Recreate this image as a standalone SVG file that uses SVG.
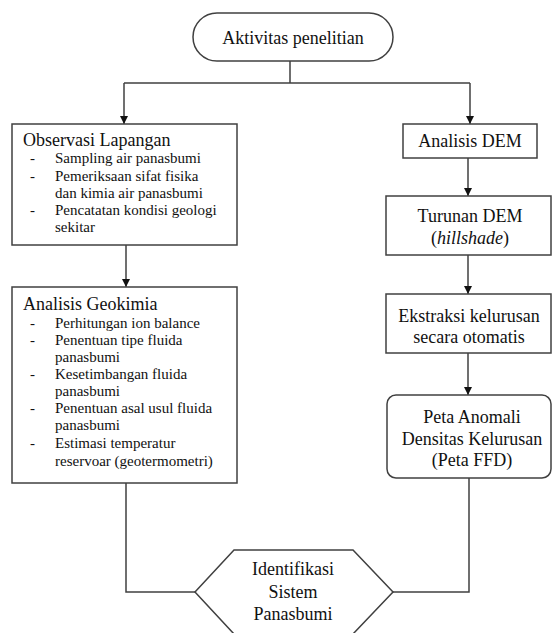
<svg xmlns="http://www.w3.org/2000/svg" width="552" height="633" viewBox="0 0 552 633">
<style>
.box{fill:#fff;stroke:#404040;stroke-width:1.5}
.ln{fill:none;stroke:#404040;stroke-width:1.5}
text{font-family:'Liberation Serif','Times New Roman',serif;fill:#111}
.t{font-size:18px}
.b{font-size:15px}
.c{text-anchor:middle}
</style>
<defs>
<marker id="ah" viewBox="0 0 10 10" refX="10" refY="5" markerWidth="9" markerHeight="8" markerUnits="userSpaceOnUse" orient="auto">
<path d="M0,0 L10,5 L0,10 z" fill="#111"/>
</marker>
</defs>
<g id="connectors">
<path class="ln" d="M290,61 V83 M124,83 H470"/>
<path class="ln" d="M124,83 V124" marker-end="url(#ah)"/>
<path class="ln" d="M470,83 V124" marker-end="url(#ah)"/>
<path class="ln" d="M126,245 V287" marker-end="url(#ah)"/>
<path class="ln" d="M468,158 V196" marker-end="url(#ah)"/>
<path class="ln" d="M468,255 V294" marker-end="url(#ah)"/>
<path class="ln" d="M468,353 V395" marker-end="url(#ah)"/>
<path class="ln" d="M126,483 V592 H195"/>
<path class="ln" d="M469,478 V592 H393"/>
</g>
<g id="start">
<rect class="box" x="193" y="13" width="200" height="48" rx="24" ry="24"/>
<text class="t c" x="293" y="44">Aktivitas penelitian</text>
</g>
<g id="observasi">
<rect class="box" x="12" y="124" width="225" height="121"/>
<text class="t" x="23" y="146">Observasi Lapangan</text>
<text class="b" x="30" y="163">-</text><text class="b" x="55" y="163">Sampling air panasbumi</text>
<text class="b" x="30" y="181">-</text><text class="b" x="55" y="181">Pemeriksaan sifat fisika</text>
<text class="b" x="55" y="198">dan kimia air panasbumi</text>
<text class="b" x="30" y="215">-</text><text class="b" x="55" y="215">Pencatatan kondisi geologi</text>
<text class="b" x="55" y="232">sekitar</text>
</g>
<g id="geokimia">
<rect class="box" x="12" y="287" width="225" height="196"/>
<text class="t" x="23" y="310">Analisis Geokimia</text>
<text class="b" x="30" y="328">-</text><text class="b" x="55" y="328">Perhitungan ion balance</text>
<text class="b" x="30" y="345">-</text><text class="b" x="55" y="345">Penentuan tipe  fluida</text>
<text class="b" x="55" y="362">panasbumi</text>
<text class="b" x="30" y="379">-</text><text class="b" x="55" y="379">Kesetimbangan fluida</text>
<text class="b" x="55" y="396">panasbumi</text>
<text class="b" x="30" y="413">-</text><text class="b" x="55" y="413">Penentuan asal  usul fluida</text>
<text class="b" x="55" y="430">panasbumi</text>
<text class="b" x="30" y="448">-</text><text class="b" x="55" y="448">Estimasi temperatur</text>
<text class="b" x="55" y="466">reservoar (geotermometri)</text>
</g>
<g id="dem">
<rect class="box" x="403" y="124" width="134" height="34"/>
<text class="t c" x="470" y="147">Analisis DEM</text>
</g>
<g id="turunan">
<rect class="box" x="386" y="196" width="165" height="59"/>
<text class="t c" x="470" y="222">Turunan DEM</text>
<text class="t c" x="470" y="244">(<tspan font-style="italic">hillshade</tspan>)</text>
</g>
<g id="ekstraksi">
<rect class="box" x="386" y="294" width="165" height="59"/>
<text class="t c" x="469" y="322">Ekstraksi kelurusan</text>
<text class="t c" x="469" y="343">secara otomatis</text>
</g>
<g id="peta">
<rect class="box" x="387" y="395" width="164" height="83" rx="9" ry="9"/>
<text class="t c" x="472" y="423">Peta Anomali</text>
<text class="t c" x="472" y="445">Densitas Kelurusan</text>
<text class="t c" x="472" y="466">(Peta FFD)</text>
</g>
<g id="identifikasi">
<polygon class="box" points="234,550 353,550 393,592 353,634 234,634 195,592"/>
<text class="t c" x="293" y="575">Identifikasi</text>
<text class="t c" x="293" y="598">Sistem</text>
<text class="t c" x="293" y="620">Panasbumi</text>
</g>
</svg>
